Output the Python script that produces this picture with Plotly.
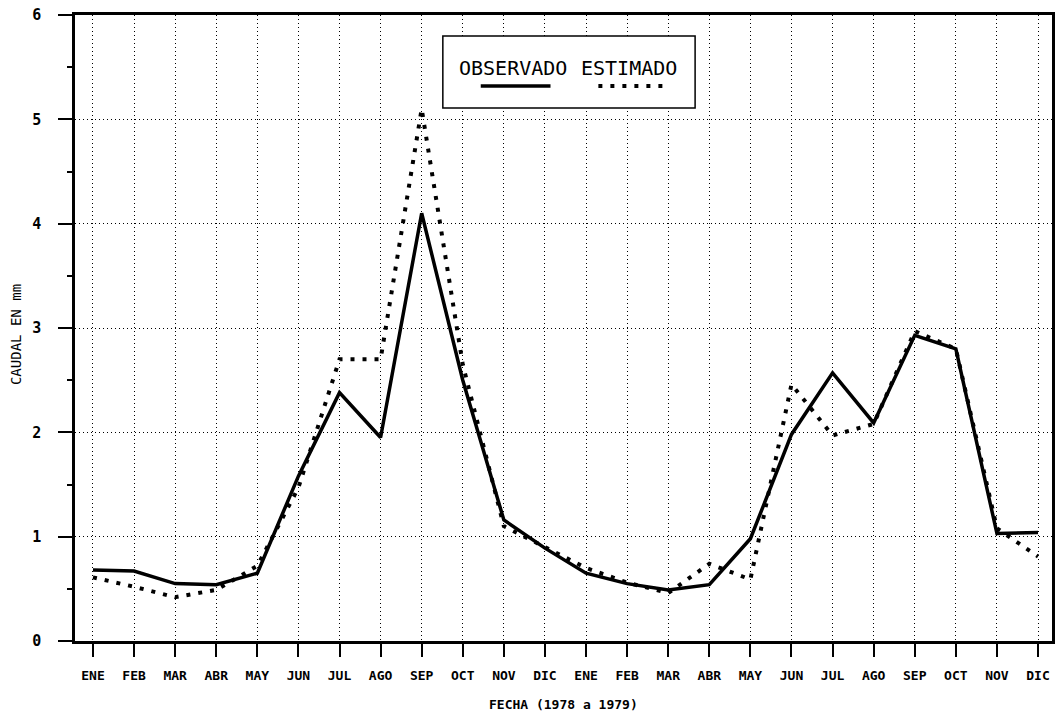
import plotly.graph_objects as go

months = ["ENE", "FEB", "MAR", "ABR", "MAY", "JUN", "JUL", "AGO", "SEP", "OCT", "NOV", "DIC",
          "ENE", "FEB", "MAR", "ABR", "MAY", "JUN", "JUL", "AGO", "SEP", "OCT", "NOV", "DIC"]
observado = [0.68, 0.67, 0.55, 0.54, 0.65, 1.58, 2.38, 1.95, 4.10, 2.50, 1.16, 0.89,
             0.65, 0.55, 0.49, 0.54, 0.98, 1.98, 2.57, 2.09, 2.93, 2.80, 1.03, 1.04]
estimado = [0.61, 0.52, 0.42, 0.49, 0.72, 1.47, 2.70, 2.70, 5.10, 2.65, 1.10, 0.90,
            0.70, 0.56, 0.46, 0.74, 0.59, 2.46, 1.97, 2.08, 2.97, 2.80, 1.08, 0.81]
y_ticks = [0, 1, 2, 3, 4, 5, 6]

x = list(range(len(months)))
FONT = "DejaVu Sans Mono"

fig = go.Figure()
fig.add_trace(go.Scatter(x=x, y=estimado, mode="lines", name="ESTIMADO",
                         line=dict(color="black", width=4, dash="4px,8px"),
                         showlegend=False))
fig.add_trace(go.Scatter(x=x, y=observado, mode="lines", name="OBSERVADO",
                         line=dict(color="black", width=3.5),
                         showlegend=False))

fig.update_layout(
    width=1060, height=721,
    margin=dict(l=75, r=5, t=15, b=80),
    paper_bgcolor="white", plot_bgcolor="white",
    font=dict(family=FONT, color="black"),
    xaxis=dict(range=[-0.437, 23.34], tickvals=x, ticktext=months,
               showline=True, linecolor="black", linewidth=2.5, mirror=True,
               ticks="outside", ticklen=13, tickwidth=2, tickcolor="black",
               showgrid=True, gridcolor="black", gridwidth=1, griddash="1px,3px",
               zeroline=False,
               tickfont=dict(family=FONT, size=13, color="black", weight="bold"),
               ticklabelstandoff=8),
    yaxis=dict(range=[0, 6], tickvals=y_ticks,
               showline=True, linecolor="black", linewidth=2.5, mirror=True,
               ticks="outside", ticklen=14, tickwidth=2, tickcolor="black",
               showgrid=True, gridcolor="black", gridwidth=1, griddash="1px,3px",
               zeroline=False,
               tickfont=dict(family=FONT, size=15, color="black", weight="bold"),
               ticklabelstandoff=14,
               minor=dict(dtick=0.5, ticks="outside", ticklen=5, tickwidth=1.5,
                          tickcolor="black", showgrid=False)),
)

# axis titles
fig.add_annotation(text="<b>FECHA (1978 a 1979)</b>", xref="paper", yref="paper",
                   x=0.5, y=-0.102, showarrow=False, xanchor="center", yanchor="middle",
                   font=dict(family=FONT, size=13, color="black"))
fig.add_annotation(text="CAUDAL EN mm", xref="paper", yref="paper",
                   x=-0.0602, y=0.489, showarrow=False, textangle=-90,
                   xanchor="center", yanchor="middle",
                   font=dict(family=FONT, size=14, color="black"))

# legend box
fig.add_shape(type="rect", xref="paper", yref="paper", x0=0.3765, x1=0.6347,
              y0=0.8514, y1=0.9665, line=dict(color="black", width=1.5),
              fillcolor="white", layer="above")
fig.add_annotation(text="OBSERVADO", xref="paper", yref="paper", x=0.448, y=0.9153,
                   showarrow=False, xanchor="center", yanchor="middle",
                   font=dict(family=FONT, size=20, color="black"))
fig.add_annotation(text="ESTIMADO", xref="paper", yref="paper", x=0.567, y=0.9153,
                   showarrow=False, xanchor="center", yanchor="middle",
                   font=dict(family=FONT, size=20, color="black"))
fig.add_shape(type="line", xref="paper", yref="paper", x0=0.4153, x1=0.4867,
              y0=0.8866, y1=0.8866, line=dict(color="black", width=3.5), layer="above")
fig.add_shape(type="line", xref="paper", yref="paper", x0=0.5357, x1=0.602,
              y0=0.8866, y1=0.8866, line=dict(color="black", width=4, dash="4px,8px"),
              layer="above")

fig.write_html("out.html")
